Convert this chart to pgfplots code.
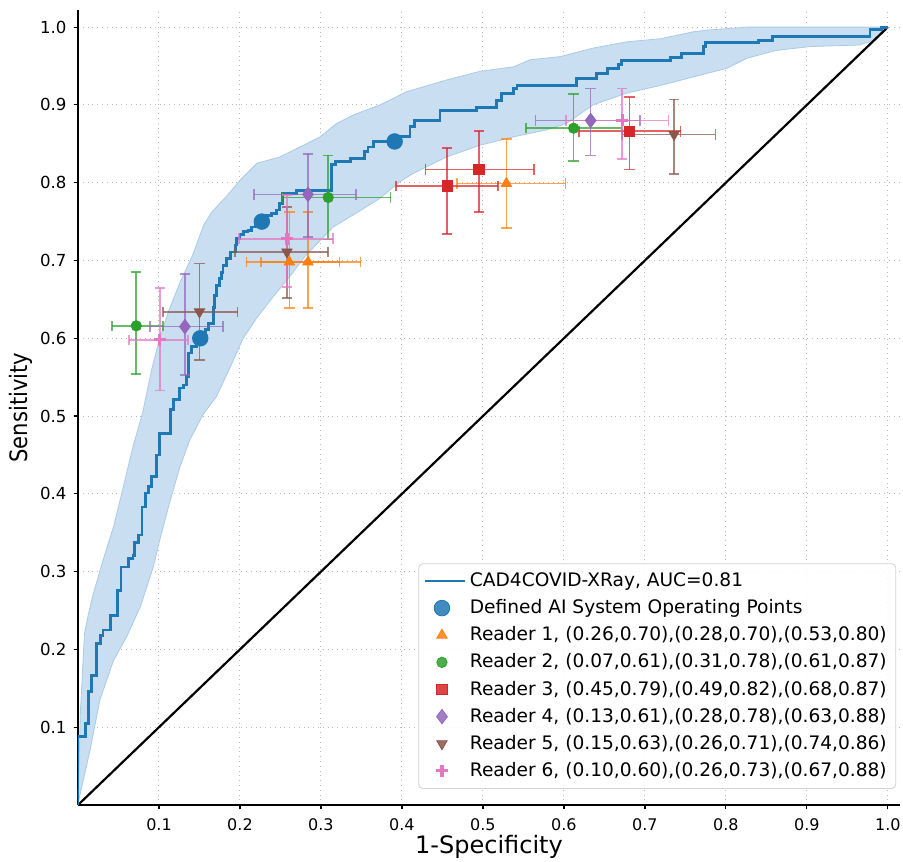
\documentclass[border=0pt]{standalone}
\usepackage{fontspec}
\setmainfont{DejaVu Sans}
\newfontfamily\condfont{DejaVu Sans}[FakeStretch=0.88]
\usepackage{pgfplots}
\pgfplotsset{compat=1.18}
\usepgfplotslibrary{fillbetween}

\definecolor{tabblue}{HTML}{1F77B4}
\definecolor{taborange}{HTML}{FF7F0E}
\definecolor{tabgreen}{HTML}{2CA02C}
\definecolor{tabred}{HTML}{D62728}
\definecolor{tabpurple}{HTML}{9467BD}
\definecolor{tabbrown}{HTML}{8C564B}
\definecolor{tabpink}{HTML}{E377C2}
\definecolor{bandfill}{HTML}{C9DEF0}
\definecolor{bandedge}{HTML}{A9CBE8}

\pgfplotsset{
    reader/.style={only marks,
        error bars/.cd, x dir=both, y dir=both, x explicit, y explicit,
        error bar style={#1, opacity=0.72, line width=0.85pt, solid},
        error mark options={#1, opacity=0.72, line width=0.85pt, mark size=2.6pt, solid, rotate=90},
        /pgfplots/.cd,
    },
}

\begin{document}
\begin{tikzpicture}
\begin{axis}[
    scale only axis, width=411.1pt, height=397.6pt,
    xmin=0, xmax=1.015, ymin=0, ymax=1.022,
    axis x line*=bottom, axis y line*=left,
    axis line style={-, black, line width=0.8pt},
    xtick={0.1,0.2,0.3,0.4,0.5,0.6,0.7,0.8,0.9,1.0},
    ytick={0.1,0.2,0.3,0.4,0.5,0.6,0.7,0.8,0.9,1.0},
    xticklabel style={font=\fontsize{8}{10}\selectfont, yshift=-1pt},
    yticklabel style={font=\fontsize{8.3}{10}\selectfont},
    /pgf/number format/.cd, fixed, fixed zerofill, precision=1, assume math mode=true,
    /pgfplots/.cd,
    tick align=outside, major tick length=2.2pt,
    tick style={black, line width=0.6pt},
    grid=major,
    grid style={gray!55, dotted, line width=0.5pt},
    xlabel={1-Specificity}, ylabel={Sensitivity},
    xlabel style={font=\fontsize{12}{14}\selectfont, yshift=4.5pt},
    ylabel style={font=\condfont\fontsize{12}{14}\selectfont, yshift=-3pt},
    legend cell align=left,
    legend style={at={(0.414,0.304)}, anchor=north west,
        font=\fontsize{9.3}{11}\selectfont, draw=gray!35, rounded corners=2pt,
        fill=white, fill opacity=0.85, text opacity=1, inner sep=2.5pt, row sep=1pt},
]
% confidence band
\addplot[name path=bandup, draw=bandedge, line width=0.4pt, forget plot] coordinates {
    (0,0) (0.003,0.12) (0.008,0.22) (0.013,0.246) (0.019,0.272) (0.031,0.315)
    (0.044,0.358) (0.056,0.409) (0.068,0.461) (0.080,0.505) (0.091,0.560)
    (0.101,0.600) (0.112,0.635) (0.126,0.672) (0.142,0.708) (0.155,0.745)
    (0.165,0.762) (0.183,0.782) (0.200,0.803) (0.221,0.825) (0.249,0.833)
    (0.282,0.850) (0.299,0.859) (0.319,0.876) (0.340,0.887) (0.373,0.900)
    (0.406,0.917) (0.455,0.932) (0.496,0.943) (0.538,0.949) (0.558,0.958)
    (0.595,0.962) (0.636,0.973) (0.677,0.981) (0.719,0.985) (0.760,0.994)
    (0.776,0.996) (0.826,1.0) (1.0,1.0)};
\addplot[name path=bandlo, draw=bandedge, line width=0.4pt, forget plot] coordinates {
    (0,0) (0.002,0.011) (0.015,0.071) (0.027,0.135) (0.044,0.186) (0.060,0.216)
    (0.077,0.255) (0.093,0.306) (0.101,0.341) (0.114,0.392) (0.126,0.435)
    (0.138,0.469) (0.155,0.503) (0.171,0.525) (0.188,0.563) (0.204,0.600)
    (0.220,0.625) (0.240,0.652) (0.262,0.680) (0.280,0.705) (0.315,0.743)
    (0.350,0.765) (0.373,0.780) (0.397,0.801) (0.414,0.812) (0.455,0.833)
    (0.496,0.848) (0.538,0.859) (0.579,0.868) (0.603,0.876) (0.636,0.900)
    (0.677,0.915) (0.719,0.925) (0.760,0.936) (0.801,0.947) (0.826,0.960)
    (0.862,0.970) (0.904,0.975) (0.965,0.977) (0.982,0.983) (1.0,1.0)};
\addplot[bandfill, forget plot] fill between[of=bandup and bandlo];
% chance line
\addplot[black, line width=1.1pt, forget plot] coordinates {(0,0) (1,1)};
% ROC curve
\addplot[const plot, tabblue, line width=1.4pt,
    legend image code/.code={\draw[tabblue, line width=1.2pt] (0cm,0cm) -- (0.7cm,0cm);}]
    coordinates {
    (0,0) (0,0.088) (0.009,0.105) (0.013,0.146) (0.017,0.167) (0.023,0.208)
    (0.028,0.218) (0.031,0.225) (0.040,0.244) (0.049,0.276) (0.053,0.306)
    (0.062,0.317) (0.068,0.321) (0.070,0.337) (0.075,0.347) (0.079,0.383)
    (0.083,0.401) (0.087,0.409) (0.091,0.422) (0.097,0.450) (0.101,0.478)
    (0.114,0.508) (0.118,0.521) (0.125,0.536) (0.130,0.540) (0.134,0.551)
    (0.136,0.581) (0.140,0.589) (0.146,0.600) (0.157,0.611) (0.161,0.619)
    (0.167,0.640) (0.169,0.655) (0.171,0.668) (0.175,0.677) (0.177,0.685)
    (0.179,0.694) (0.183,0.703) (0.188,0.711) (0.194,0.720) (0.196,0.728)
    (0.200,0.733) (0.204,0.737) (0.210,0.739) (0.214,0.743) (0.219,0.748)
    (0.226,0.752) (0.233,0.758) (0.239,0.760) (0.245,0.765) (0.249,0.773)
    (0.253,0.786) (0.270,0.790) (0.313,0.823) (0.318,0.827) (0.336,0.831)
    (0.354,0.840) (0.358,0.846) (0.365,0.853) (0.391,0.859) (0.410,0.872)
    (0.416,0.880) (0.447,0.893) (0.492,0.897) (0.517,0.906) (0.523,0.915)
    (0.538,0.921) (0.542,0.925) (0.616,0.934) (0.640,0.940) (0.654,0.947)
    (0.667,0.952) (0.671,0.957) (0.732,0.961) (0.745,0.966) (0.772,0.975)
    (0.775,0.980) (0.840,0.983) (0.858,0.988) (0.978,0.997) (0.992,1.0)
    (1.0,1.0)};
\addlegendentry{CAD4COVID-XRay, AUC=0.81}
% AI operating points
\addplot[only marks, mark=*, mark size=3.9pt, color=tabblue] coordinates {
    (0.151,0.600) (0.227,0.750) (0.391,0.853)};
\addlegendentry{Defined AI System Operating Points}
% readers
\addplot[reader=taborange, mark=triangle*, mark size=3pt, color=taborange] coordinates {
    (0.261,0.698) += (0.062,0.064) -= (0.053,0.059)
    (0.284,0.698) += (0.065,0.064) -= (0.058,0.059)
    (0.529,0.799) += (0.073,0.057) -= (0.061,0.057)};
\addlegendentry{Reader 1, (0.26,0.70),(0.28,0.70),(0.53,0.80)}
\addplot[reader=tabgreen, mark=*, mark size=2.6pt, color=tabgreen] coordinates {
    (0.072,0.616) += (0.033,0.069) -= (0.030,0.062)
    (0.309,0.781) += (0.077,0.054) -= (0.057,0.054)
    (0.612,0.870) += (0.059,0.044) -= (0.059,0.042)};
\addlegendentry{Reader 2, (0.07,0.61),(0.31,0.78),(0.61,0.87)}
\addplot[reader=tabred, mark=square*, mark size=2.6pt, color=tabred] coordinates {
    (0.456,0.796) += (0.063,0.049) -= (0.063,0.062)
    (0.495,0.817) += (0.068,0.049) -= (0.066,0.055)
    (0.681,0.866) += (0.063,0.044) -= (0.062,0.049)};
\addlegendentry{Reader 3, (0.45,0.79),(0.49,0.82),(0.68,0.87)}
\addplot[reader=tabpurple, mark=diamond*, mark size=3.6pt, color=tabpurple] coordinates {
    (0.132,0.615) += (0.047,0.068) -= (0.043,0.062)
    (0.284,0.785) += (0.059,0.052) -= (0.067,0.055)
    (0.633,0.880) += (0.061,0.041) -= (0.068,0.045)};
\addlegendentry{Reader 4, (0.13,0.61),(0.28,0.78),(0.63,0.88)}
\addplot[reader=tabbrown, mark=triangle*, mark size=3pt, mark options={rotate=180}, color=tabbrown] coordinates {
    (0.150,0.634) += (0.047,0.062) -= (0.045,0.062)
    (0.258,0.711) += (0.051,0.058) -= (0.064,0.059)
    (0.736,0.862) += (0.051,0.045) -= (0.064,0.051)};
\addlegendentry{Reader 5, (0.15,0.63),(0.26,0.71),(0.74,0.86)}
\addplot[reader=tabpink, mark=+, mark size=3pt, mark options={line width=1.6pt}, color=tabpink] coordinates {
    (0.101,0.598) += (0.035,0.067) -= (0.038,0.065)
    (0.258,0.728) += (0.057,0.056) -= (0.059,0.062)
    (0.672,0.880) += (0.057,0.041) -= (0.069,0.050)};
\addlegendentry{Reader 6, (0.10,0.60),(0.26,0.73),(0.67,0.88)}
\end{axis}
\pgfresetboundingbox
\path ([xshift=-39pt,yshift=-28pt]current axis.south west) rectangle ([xshift=1.5pt,yshift=5pt]current axis.north east);
\end{tikzpicture}
\end{document}
